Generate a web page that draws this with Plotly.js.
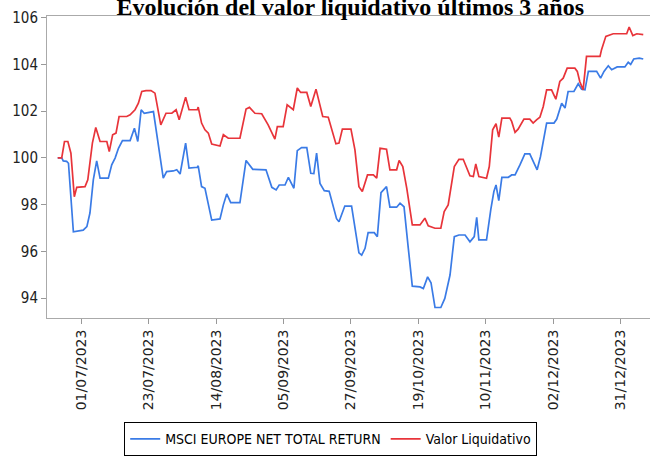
<!DOCTYPE html>
<html>
<head>
<meta charset="utf-8">
<script src="https://cdn.plot.ly/plotly-3.0.1.min.js"></script>
<style>html,body{margin:0;padding:0;background:#fff;}#chart{width:651px;height:457px;}</style>
</head>
<body>
<div id="chart"></div>
<script>
// x = day index on the chart's axis (0 = 01/07/2023, labelled ticks every 22 units)
var tickPositions = [0, 22, 44, 66, 88, 110, 132, 154, 176];
var tickLabels = ["01/07/2023","23/07/2023","14/08/2023","05/09/2023","27/09/2023","19/10/2023","10/11/2023","02/12/2023","31/12/2023"];

var msciDays = [-7.6,-6.3,-5.8,-4.7,-4.1,-2.5,0.7,1.9,2.9,4.0,5.1,6.2,8.9,10.0,11.1,12.2,13.5,16.0,17.4,18.5,19.6,20.6,23.6,25.2,26.8,27.9,30.1,31.2,32.3,34.1,35.2,37.9,38.2,39.3,40.4,42.6,45.3,46.4,47.5,48.8,51.8,53.8,56.0,60.3,62.2,63.6,64.6,66.5,67.6,69.4,70.5,71.9,73.6,74.9,75.9,76.8,77.9,79.3,80.9,83.3,84.1,86.0,88.2,90.6,91.5,92.6,93.6,95.6,96.6,97.8,99.6,100.7,102.9,104.0,105.3,106.7,108.0,110.5,111.6,113.0,114.1,115.4,117.3,118.6,120.3,121.7,123.2,125.2,126.8,128.2,129.0,129.7,132.2,133.6,134.6,135.3,136.2,137.2,139.3,140.4,141.5,143.1,144.7,146.3,147.4,148.7,149.8,151.8,154.2,155.1,156.7,157.8,158.8,160.7,162.1,163.2,164.3,165.4,168.1,169.4,170.5,171.9,173.0,174.8,177.3,178.4,179.2,180.2,182.0,183.3];
var msciValues = [100.0,100.0,99.87,99.85,99.77,96.84,96.91,97.06,97.64,99.06,99.87,99.13,99.13,99.7,99.99,100.41,100.74,100.74,101.27,100.7,102.06,101.91,101.98,100.49,99.13,99.41,99.44,99.49,99.31,100.63,99.56,99.6,99.66,98.77,98.7,97.34,97.39,97.99,98.46,98.09,98.09,99.89,99.51,99.49,98.74,98.63,98.84,98.84,99.17,98.7,100.31,100.44,100.44,99.34,99.33,100.2,98.91,98.6,98.57,97.4,97.27,97.94,97.94,95.94,95.84,96.13,96.8,96.8,96.63,98.51,98.77,97.89,97.89,98.06,97.91,96.13,94.51,94.48,94.41,94.91,94.66,93.6,93.6,93.99,94.99,96.63,96.7,96.7,96.41,96.63,97.46,96.49,96.49,97.8,98.56,98.84,98.17,99.17,99.17,99.27,99.27,99.7,100.17,100.17,99.84,99.49,100.06,101.49,101.49,101.66,102.34,102.13,102.84,102.84,103.17,102.94,102.91,103.7,103.7,103.41,103.7,103.94,103.77,103.89,103.89,104.09,104.0,104.23,104.27,104.23];

var navDays = [-7.6,-6.3,-5.4,-4.3,-3.3,-2.2,-1.4,1.3,2.2,3.7,4.8,6.2,8.4,9.2,10.3,11.4,12.4,14.9,16.0,17.6,18.7,19.8,21.2,22.8,24.1,25.2,26.0,27.7,29.6,31.0,32.0,34.1,35.2,37.9,38.2,39.3,40.4,41.5,42.6,45.3,46.4,48.0,51.8,53.8,54.9,56.7,58.9,61.0,63.2,64.0,65.9,67.2,69.2,70.5,71.6,73.6,74.9,76.6,78.8,80.6,83.1,84.1,85.2,88.0,89.3,90.6,91.7,93.4,95.3,96.4,97.5,99.6,100.7,102.9,103.7,104.9,106.2,108.0,110.5,112.1,113.2,115.4,117.3,118.4,119.7,121.7,123.2,124.6,126.8,127.9,128.7,129.7,132.2,133.1,134.2,135.3,136.2,137.2,139.8,140.4,141.5,142.5,144.4,146.3,147.4,148.5,149.6,150.7,151.8,153.4,154.8,156.1,157.2,158.5,161.0,161.8,162.6,163.7,164.8,169.2,169.7,171.1,173.5,177.9,178.7,179.9,181.2,183.3];
var navValues = [100.0,100.0,100.7,100.7,100.2,98.34,98.74,98.77,99.06,100.63,101.3,100.7,100.7,100.27,100.99,101.06,101.77,101.77,101.84,102.06,102.34,102.84,102.88,102.88,102.77,102.06,101.41,101.91,101.91,102.06,101.63,102.6,102.06,102.06,102.17,101.49,101.2,101.06,100.59,100.51,100.99,100.84,100.84,102.09,102.16,101.91,101.89,101.41,100.8,101.34,101.34,102.27,102.06,102.99,102.8,102.8,102.2,102.94,101.77,101.74,100.6,100.63,101.23,101.23,100.34,98.77,98.56,99.27,99.27,99.13,100.41,100.37,99.49,99.49,99.89,99.63,98.7,97.13,97.13,97.42,97.09,96.99,96.99,97.7,97.99,99.63,99.94,99.94,99.23,99.2,99.74,99.2,99.13,99.63,101.2,101.46,100.89,101.7,101.7,101.56,101.09,101.23,101.66,101.66,101.49,101.63,101.74,102.2,102.91,102.91,102.51,103.27,103.41,103.84,103.84,103.7,103.27,102.91,104.34,104.34,104.63,105.2,105.31,105.31,105.6,105.23,105.31,105.27];

var yTicks = [94, 96, 98, 100, 102, 104, 106];

var traces = [
  {x: msciDays, y: msciValues, type: 'scatter', mode: 'lines', name: 'MSCI EUROPE NET TOTAL RETURN',
   line: {color: '#3a7be6', width: 1.7}},
  {x: navDays, y: navValues, type: 'scatter', mode: 'lines', name: 'Valor Liquidativo',
   line: {color: '#e8343a', width: 1.7}}
];

var layout = {
  width: 651, height: 457,
  margin: {l: 47, r: 1, t: 16, b: 139, autoexpand: false},
  paper_bgcolor: '#ffffff', plot_bgcolor: '#ffffff',
  showlegend: true,
  title: {text: 'Evolución del valor liquidativo últimos 3 años', x: 0.538, xanchor: 'center',
          xref: 'container', yref: 'container',
          y: 0.986, yanchor: 'middle',
          font: {family: 'Liberation Serif, Times New Roman, serif', size: 24, color: '#000', weight: 'bold'}},
  xaxis: {
    range: [-11.1, 185.5], tickmode: 'array', tickvals: tickPositions, ticktext: tickLabels,
    tickangle: -90, ticks: 'outside', ticklen: 5, tickcolor: '#999',
    showline: true, linecolor: '#aaa', linewidth: 1, mirror: true,
    showgrid: false, zeroline: false, automargin: false,
    tickfont: {family: 'DejaVu Sans, sans-serif', size: 14, color: '#222'}
  },
  yaxis: {
    range: [93.15, 106.07], tickmode: 'array', tickvals: yTicks,
    ticks: 'outside', ticklen: 5, tickcolor: '#999',
    showline: true, linecolor: '#aaa', linewidth: 1,
    showgrid: false, zeroline: false, automargin: false,
    tickfont: {family: 'DejaVu Sans Condensed, DejaVu Sans, sans-serif', size: 15, color: '#222'}
  },
  legend: {orientation: 'h', x: 0.508, xref: 'container', xanchor: 'center',
           y: 0.076, yref: 'container', yanchor: 'top',
           bordercolor: '#000', borderwidth: 1, bgcolor: '#fff',
           font: {family: 'DejaVu Sans Condensed, DejaVu Sans, sans-serif', size: 14, color: '#000'},
           itemwidth: 30, tracegroupgap: 0}
};

Plotly.newPlot('chart', traces, layout, {displayModeBar: false, staticPlot: true});
</script>
</body>
</html>
